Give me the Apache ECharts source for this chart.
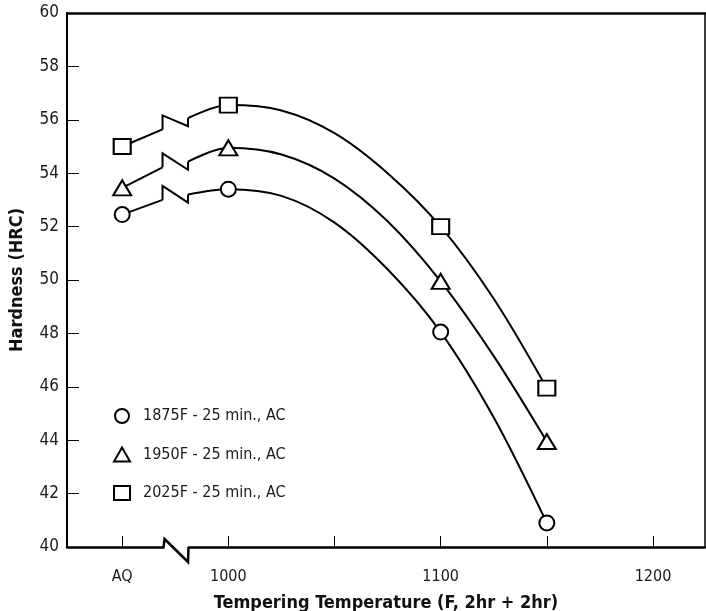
<!DOCTYPE html>
<html>
<head>
<meta charset="utf-8">
<script src="https://cdn.jsdelivr.net/npm/echarts@6/dist/echarts.min.js"></script>
<style>
  html, body { margin: 0; padding: 0; background: #fff; }
  #chart { width: 706px; height: 611px; }
</style>
</head>
<body>
<div id="chart"></div>
<script>
var FONT = "'DejaVu Sans Condensed', 'Liberation Sans', sans-serif";

// measured points (950 stands for the "AQ" position left of the break)
var tempPts = [950, 1000, 1100, 1150];
var hrc1875 = [52.45, 53.4, 48.05, 40.9];
var hrc1950 = [53.45, 54.95, 49.95, 43.95];
var hrc2025 = [55.0, 56.55, 52.0, 45.95];

// drawn curves (start at the right side of the break)
var fitX = [981, 1000, 1025, 1050, 1075, 1100, 1125, 1150];
var fit1875 = [53.2, 53.4, 53.15, 52.15, 50.4, 48.05, 44.85, 40.9];
var fit1950 = [54.43, 54.95, 54.7, 53.8, 52.2, 49.95, 47.15, 43.95];
var fit2025 = [56.06, 56.55, 56.35, 55.5, 54.0, 52.0, 49.3, 45.95];

// break in the lines: x left/right of the zigzag, and line value at the left side
var breakX = [969, 981];
var breakLo = [53.0, 54.22, 55.64];

var xTicks = [950, 1000, 1050, 1100, 1150, 1200];
var xLabels = [950, 1000, 1100, 1200];
var xLabelText = { 950: 'AQ', 1000: '1000', 1100: '1100', 1200: '1200' };

var names = ['1875F - 25 min., AC', '1950F - 25 min., AC', '2025F - 25 min., AC'];
var symbols = ['circle', 'triangle', 'rect'];
var symbolSizes = [15, [18, 15], [17, 15]];
var values = [hrc1875, hrc1950, hrc2025];
var fits = [fit1875, fit1950, fit2025];

var chart = echarts.init(document.getElementById('chart'));

function pairs(xs, ys) {
    return xs.map(function (x, i) { return [x, ys[i]]; });
}

var series = [];
for (var i = 0; i < 3; i++) {
    // straight piece from AQ to the break
    series.push({
        type: 'line',
        data: [[tempPts[0], values[i][0]], [breakX[0], breakLo[i]]],
        symbol: 'none',
        silent: true,
        lineStyle: { color: '#000', width: 2 },
        z: 3
    });
    // zigzag break in the line
    series.push({
        type: 'custom',
        data: [[breakX[0], breakLo[i], breakX[1], fits[i][0]]],
        encode: { x: [0, 2], y: [1, 3] },
        silent: true,
        z: 3,
        renderItem: function (params, api) {
            var a = api.coord([api.value(0), api.value(1)]);
            var b = api.coord([api.value(2), api.value(3)]);
            return {
                type: 'polyline',
                shape: { points: [a, [a[0], a[1] - 14], [b[0], b[1] + 8], b] },
                style: { stroke: '#000', lineWidth: 2, fill: null }
            };
        }
    });
    // smooth curve
    series.push({
        type: 'line',
        data: pairs(fitX, fits[i]),
        smooth: 0.33,
        symbol: 'none',
        silent: true,
        lineStyle: { color: '#000', width: 2 },
        z: 3
    });
    // markers
    series.push({
        name: names[i],
        type: 'scatter',
        data: pairs(tempPts, values[i]),
        symbol: symbols[i],
        symbolSize: symbolSizes[i],
        itemStyle: { color: '#fff', borderColor: '#000', borderWidth: 2, opacity: 1 },
        z: 5
    });
}

// break mark on the x axis
series.push({
    type: 'custom',
    data: [[969.5, 40, 981, 40]],
    encode: { x: [0, 2], y: [1, 3] },
    silent: true,
    z: 6,
    renderItem: function (params, api) {
        var a = api.coord([api.value(0), api.value(1)]);
        var b = api.coord([api.value(2), api.value(3)]);
        return {
            type: 'group',
            children: [
                {
                    type: 'rect',
                    shape: { x: a[0] + 1, y: a[1] - 3, width: b[0] - a[0] - 1, height: 6 },
                    style: { fill: '#fff' }
                },
                {
                    type: 'polyline',
                    shape: { points: [a, [a[0] + 1, a[1] - 8], [b[0], b[1] + 15], [b[0] + 0.5, b[1]]] },
                    style: { stroke: '#000', lineWidth: 2.5, fill: null }
                }
            ]
        };
    }
});

var option = {
    backgroundColor: '#fff',
    animation: false,
    textStyle: { fontFamily: FONT },
    grid: { left: 67, right: 1, top: 13, bottom: 64, outerBoundsMode: 'none' },
    legend: {
        orient: 'vertical',
        left: 108,
        top: 403,
        itemWidth: 16,
        itemHeight: 14,
        itemGap: 22.5,
        data: names,
        textStyle: { fontFamily: FONT, fontSize: 16, color: '#1a1a1a', padding: [0, 0, 0, 8] }
    },
    xAxis: [{
        type: 'value',
        min: 924,
        max: 1224.5,
        position: 'bottom',
        name: 'Tempering Temperature (F, 2hr + 2hr)',
        nameLocation: 'middle',
        nameGap: 47,
        nameTextStyle: { fontFamily: FONT, fontSize: 18, fontWeight: 'bold', color: '#111' },
        axisLine: { lineStyle: { color: '#000', width: 2.5 } },
        axisTick: { inside: true, length: 11, customValues: xTicks, lineStyle: { color: '#000', width: 1 } },
        axisLabel: {
            customValues: xLabels,
            margin: 22,
            fontSize: 16,
            color: '#1a1a1a',
            formatter: function (v) { return xLabelText[v] || ''; }
        },
        splitLine: { show: false }
    }, {
        type: 'value',
        min: 924,
        max: 1224.5,
        position: 'top',
        axisLine: { show: true, lineStyle: { color: '#000', width: 2.5 } },
        axisTick: { show: false },
        axisLabel: { show: false },
        splitLine: { show: false }
    }],
    yAxis: [{
        type: 'value',
        min: 40,
        max: 60,
        interval: 2,
        name: 'Hardness (HRC)',
        nameLocation: 'middle',
        nameGap: 41,
        nameTextStyle: { fontFamily: FONT, fontSize: 18, fontWeight: 'bold', color: '#111' },
        axisLine: { show: true, lineStyle: { color: '#000', width: 2 } },
        axisTick: { show: true, inside: true, length: 12, lineStyle: { color: '#000', width: 1 } },
        axisLabel: { margin: 8, fontSize: 17, color: '#1a1a1a' },
        splitLine: { show: false }
    }, {
        type: 'value',
        min: 40,
        max: 60,
        position: 'right',
        axisLine: { show: true, lineStyle: { color: '#000', width: 1.5 } },
        axisTick: { show: false },
        axisLabel: { show: false },
        splitLine: { show: false }
    }],
    series: series
};

chart.setOption(option);
</script>
</body>
</html>
